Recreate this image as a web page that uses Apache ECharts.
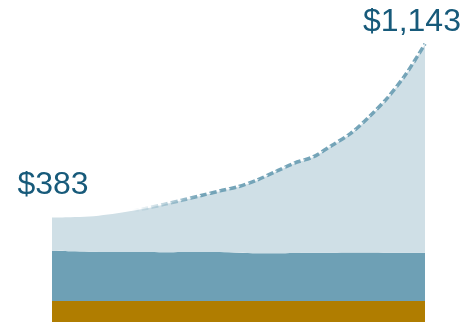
<!DOCTYPE html>
<html>
<head>
<meta charset="utf-8">
<script src="https://cdn.jsdelivr.net/npm/echarts@6/dist/echarts.min.js"></script>
<style>
  html, body { margin: 0; padding: 0; background: #ffffff; }
  #chart { width: 463px; height: 323px; }
</style>
</head>
<body>
<div id="chart"></div>
<script>
// Period index along the horizontal axis (not drawn)
const periods = ['0','1','2','3','4','5','6','7','8','9','10','11','12','13','14','15','16','17','18','19','20'];

// Bottom layer: fixed component
const baseLayer = [17,17,17,17,17,17,17,17,17,17,17,17,17,17,17,17,17,17,17,17,17];

// Middle layer: roughly flat component
const midLayer = [220,218,216,215,214,214,213,214,215,214,211,209,209,210,211,211,212,212,211,211,211];

// Top layer: growing component
const topLayer = [146,149,154,164,177,191,210,228,247,268,290,321,358,394,420,470,521,594,680,785,915];

// Total of the three layers, labelled at both ends
const totals = [383,384,387,396,408,422,440,459,479,499,518,547,584,621,648,698,750,823,908,1013,1143];

const labelColor = '#175a7a';
const lastIdx = totals.length - 1;

function money(v) {
  return '$' + v.toLocaleString('en-US');
}

const totalData = totals.map((v, i) => {
  if (i === 0) {
    return { value: v, label: { show: true, position: 'top', distance: 16, offset: [1, 0] } };
  }
  if (i === lastIdx) {
    return { value: v, label: { show: true, position: 'top', distance: 5, offset: [-13, 0] } };
  }
  return v;
});

// Fades the top line in from the left, where it sits on the flat part of the curve
function fadeIn(rgb, alpha) {
  return {
    type: 'linear', x: 0, y: 0, x2: 1, y2: 0,
    colorStops: [
      { offset: 0, color: 'rgba(' + rgb + ',0)' },
      { offset: 0.22, color: 'rgba(' + rgb + ',0)' },
      { offset: 0.4, color: 'rgba(' + rgb + ',' + alpha + ')' },
      { offset: 1, color: 'rgba(' + rgb + ',' + alpha + ')' }
    ]
  };
}

const chart = echarts.init(document.getElementById('chart'), null, { renderer: 'canvas' });

chart.setOption({
  animation: false,
  backgroundColor: '#ffffff',
  grid: { left: 52, right: 38, top: 8, bottom: 1, containLabel: false },
  xAxis: {
    type: 'category',
    data: periods,
    boundaryGap: false,
    show: false
  },
  yAxis: {
    type: 'value',
    min: -75,
    max: 1300,
    show: false,
    splitLine: { show: false }
  },
  series: [
    {
      name: 'base',
      type: 'line',
      stack: 'layers',
      data: baseLayer,
      symbol: 'none',
      lineStyle: { width: 0 },
      areaStyle: { color: '#b07d00', opacity: 1, origin: 'start' },
      silent: true
    },
    {
      name: 'mid',
      type: 'line',
      stack: 'layers',
      smooth: 0.3,
      data: midLayer,
      symbol: 'none',
      lineStyle: { width: 0 },
      areaStyle: { color: '#6ea0b5', opacity: 1 },
      silent: true
    },
    {
      name: 'top',
      type: 'line',
      stack: 'layers',
      smooth: 0.3,
      data: topLayer,
      symbol: 'none',
      lineStyle: { width: 0 },
      areaStyle: { color: '#cfdfe6', opacity: 1 },
      silent: true
    },
    {
      name: 'total',
      type: 'line',
      smooth: 0.3,
      data: totalData,
      symbol: 'circle',
      symbolSize: 1,
      showSymbol: true,
      showAllSymbol: true,
      itemStyle: { color: 'rgba(0,0,0,0)' },
      z: 5,
      lineStyle: {
        width: 3.5,
        type: [7, 3],
        color: fadeIn('110,160,181', 0.95)
      },
      label: {
        show: false,
        color: labelColor,
        fontFamily: 'Liberation Sans, Arial, sans-serif',
        fontSize: 32,
        formatter: p => money(p.value)
      },
      silent: true
    },
    {
      name: 'totalTexture',
      type: 'line',
      smooth: 0.3,
      data: totals,
      symbol: 'none',
      z: 6,
      lineStyle: {
        width: 1,
        type: [3, 7],
        dashOffset: 2,
        color: fadeIn('255,255,255', 0.85)
      },
      silent: true
    }
  ]
});
</script>
</body>
</html>
